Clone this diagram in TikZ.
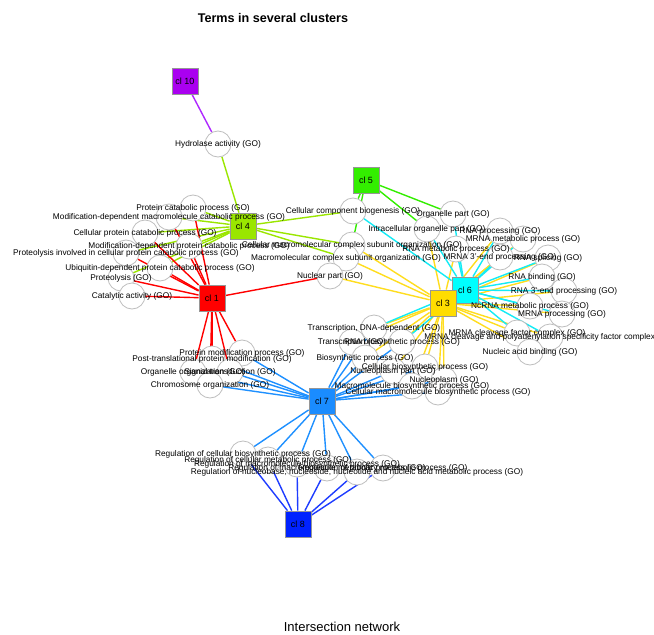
\documentclass[tikz,border=0pt]{standalone}
\usepackage{fontspec}
\setmainfont{Liberation Sans}

\pgfdeclarelayer{edgelayer}
\pgfdeclarelayer{textlayer}
\pgfsetlayers{edgelayer,main,textlayer}

\definecolor{ringgray}{RGB}{190,190,190}
\definecolor{boxgray}{RGB}{150,150,150}
\definecolor{colone}{RGB}{255,0,0}
\definecolor{colthree}{RGB}{255,221,0}
\definecolor{colfour}{RGB}{154,230,0}
\definecolor{colfive}{RGB}{51,238,0}
\definecolor{colsix}{RGB}{0,255,255}
\definecolor{colseven}{RGB}{26,140,255}
\definecolor{coleight}{RGB}{0,34,255}
\definecolor{colten}{RGB}{170,0,240}
\definecolor{edgethree}{RGB}{255,221,30}
\definecolor{edgesix}{RGB}{20,235,245}
\definecolor{edgeseven}{RGB}{30,144,255}
\definecolor{edgeeight}{RGB}{30,60,255}
\definecolor{edgeten}{RGB}{175,40,255}

\tikzset{
  term/.style={circle, draw=ringgray, fill=white, line width=0.8pt, minimum size=26pt, inner sep=0pt},
  lbl/.style={font=\fontsize{8.3}{9}\selectfont, inner sep=0pt, text=black},
  clus/.style={rectangle, draw=boxgray, line width=0.8pt, minimum size=26pt, inner sep=0pt,
               font=\fontsize{9}{10}\selectfont},
  link/.style={line width=1.4pt},
}

% a GO term: circle plus its centred label drawn above everything
\newcommand\goterm[4]{%
  \node[term] (#1) at (#2,#3) {};
  \begin{pgfonlayer}{textlayer}\node[lbl] (#1-t) at (#1) {#4};\end{pgfonlayer}}

\begin{document}
\begin{tikzpicture}[x=1pt,y=-1pt]
\useasboundingbox (0,0) rectangle (654,635);
\begin{pgfonlayer}{edgelayer}
  \fill[white] (0,0) rectangle (654,635);
\end{pgfonlayer}

\node[font=\bfseries\fontsize{12.6}{14}\selectfont] (title) at (273,18) {Terms in several clusters};
\node[font=\fontsize{13}{15}\selectfont] (caption) at (342,627) {Intersection network};

% ---- GO terms ----
\goterm{hyd}{218}{144}{Hydrolase activity (GO)}
\goterm{pcp}{193}{208}{Protein catabolic process (GO)}
\goterm{mdmc}{169}{217}{Modification-dependent macromolecule catabolic process (GO)}
\goterm{cpcp}{145}{233}{Cellular protein catabolic process (GO)}
\goterm{mdpc}{189}{246}{Modification-dependent protein catabolic process (GO)}
\goterm{picp}{126}{253}{Proteolysis involved in cellular protein catabolic process (GO)}
\goterm{udpc}{160}{268}{Ubiquitin-dependent protein catabolic process (GO)}
\goterm{prot}{121}{278}{Proteolysis (GO)}
\goterm{cat}{132}{296}{Catalytic activity (GO)}
\goterm{ccb}{353}{211}{Cellular component biogenesis (GO)}
\goterm{cmcso}{352}{245}{Cellular macromolecular complex subunit organization (GO)}
\goterm{mcso}{346}{258}{Macromolecular complex subunit organization (GO)}
\goterm{np}{330}{276}{Nuclear part (GO)}
\goterm{op}{453}{214}{Organelle part (GO)}
\goterm{iop}{427}{229}{Intracellular organelle part (GO)}
\goterm{rnap}{500}{231}{RNA processing (GO)}
\goterm{mrnam}{523}{239}{MRNA metabolic process (GO)}
\goterm{rnam}{456}{249}{RNA metabolic process (GO)}
\goterm{mte}{500}{257}{MRNA 3'-end processing (GO)}
\goterm{rsp}{548}{258}{RNA splicing (GO)}
\goterm{rnab}{542}{277}{RNA binding (GO)}
\goterm{rte}{564}{291}{RNA 3'-end processing (GO)}
\goterm{ncrna}{530}{306}{NcRNA metabolic process (GO)}
\goterm{mrnap}{562}{314}{MRNA processing (GO)}
\goterm{mcfc}{517}{333}{MRNA cleavage factor complex (GO)}
\goterm{mcpsf}{550}{337}{MRNA cleavage and polyadenylation specificity factor complex (GO)}
\goterm{nab}{530}{352}{Nucleic acid binding (GO)}
\goterm{tdd}{374}{328}{Transcription, DNA-dependent (GO)}
\goterm{tr}{352}{342}{Transcription (GO)}
\goterm{rbs}{402}{342}{RNA biosynthetic process (GO)}
\goterm{bp}{365}{358}{Biosynthetic process (GO)}
\goterm{cbp}{425}{367}{Cellular biosynthetic process (GO)}
\goterm{npp}{393}{371}{Nucleoplasm part (GO)}
\goterm{nuc}{444}{380}{Nucleoplasm (GO)}
\goterm{mbp}{412}{386}{Macromolecule biosynthetic process (GO)}
\goterm{cmbp}{438}{392}{Cellular macromolecule biosynthetic process (GO)}
\goterm{pmp}{242}{353}{Protein modification process (GO)}
\goterm{ptpm}{212}{359}{Post-translational protein modification (GO)}
\goterm{oo}{193}{372}{Organelle organization (GO)}
\goterm{sig}{230}{372}{Signal transduction (GO)}
\goterm{chr}{210}{385}{Chromosome organization (GO)}
\goterm{ra}{243}{454}{Regulation of cellular biosynthetic process (GO)}
\goterm{rb}{268}{460}{Regulation of cellular metabolic process (GO)}
\goterm{rc}{297}{464}{Regulation of macromolecule biosynthetic process (GO)}
\goterm{rd}{327}{468}{Regulation of macromolecule metabolic process (GO)}
\goterm{re}{357}{472}{Regulation of nucleobase, nucleoside, nucleotide and nucleic acid metabolic process (GO)}
\goterm{rf}{383}{468}{Regulation of primary metabolic process (GO)}

% ---- clusters ----
\node[clus, fill=colten]   (c10) at (185,81)  {cl 10};
\node[clus, fill=colfour]  (c4)  at (243,226) {cl 4};
\node[clus, fill=colfive]  (c5)  at (366,180) {cl 5};
\node[clus, fill=colone]   (c1)  at (212,298) {cl 1};
\node[clus, fill=colsix]   (c6)  at (465,290) {cl 6};
\node[clus, fill=colthree] (c3)  at (443,303) {cl 3};
\node[clus, fill=colseven] (c7)  at (322,401) {cl 7};
\node[clus, fill=coleight] (c8)  at (298,524) {cl 8};

% ---- memberships ----
\begin{pgfonlayer}{edgelayer}
  \draw[link, edgeten] (c10) -- (hyd);
  \foreach \t in {hyd,pcp,mdmc,cpcp,mdpc,picp,udpc,prot,ccb,cmcso,mcso}
    \draw[link, colfour] (c4) -- (\t);
  \foreach \t in {pcp,mdmc,cpcp,mdpc,picp,udpc,prot,cat,np,pmp,ptpm,oo,sig,chr}
    \draw[link, colone] (c1) -- (\t);
  \foreach \t in {ccb,op,iop,cmcso}
    \draw[link, colfive] (c5) -- (\t);
  \foreach \t in {np,cmcso,mcso,iop,rnap,mrnam,rnam,mte,rsp,rnab,rte,ncrna,mrnap,mcfc,mcpsf,nab,tdd,tr,rbs,bp,cbp,npp,nuc,mbp,cmbp}
    \draw[link, edgethree] (c3) -- (\t);
  \foreach \t in {ccb,op,iop,rnap,mrnam,rnam,mte,rsp,rnab,rte,ncrna,mrnap,mcfc,mcpsf,rbs,tdd}
    \draw[link, edgesix] (c6) -- (\t);
  \foreach \t in {tr,tdd,rbs,bp,cbp,npp,nuc,mbp,cmbp,pmp,ptpm,oo,sig,chr,ra,rb,rc,rd,re,rf}
    \draw[link, edgeseven] (c7) -- (\t);
  \foreach \t in {ra,rb,rc,rd,re,rf}
    \draw[link, edgeeight] (c8) -- (\t);
\end{pgfonlayer}
\end{tikzpicture}
\end{document}
